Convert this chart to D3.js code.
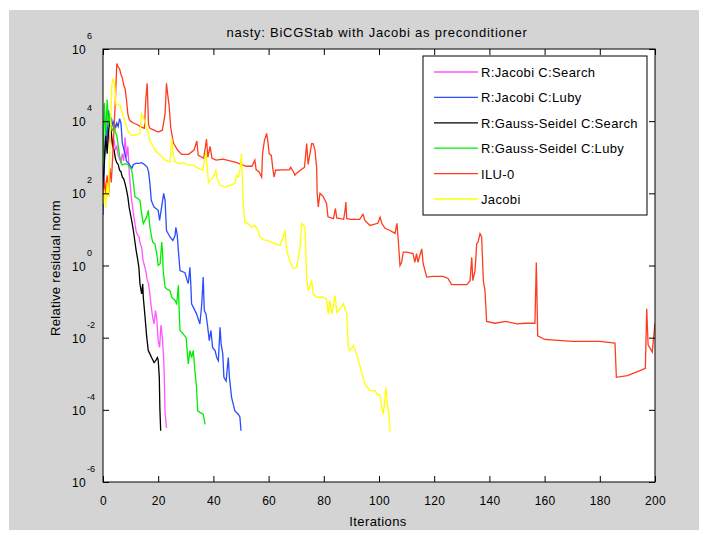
<!DOCTYPE html>
<html>
<head>
<meta charset="utf-8">
<script src="https://cdn.jsdelivr.net/npm/d3@7"></script>
<style>
  body { margin: 0; background: #fff; }
  text { font-family: "Liberation Sans", Arial, sans-serif; fill: #000; }
</style>
</head>
<body>
<svg id="chart" width="707" height="535"></svg>
<script>
// residual histories: [iteration, log10(relative residual)]
var jacobiSearch = [[0,2.4],[0.5,3.0],[1,3.5],[1.5,3.3],[2,3.8],[2.5,3.4],[3,3.6],[3.5,3.3],[4,3.5],[4.5,3.2],[5,3.3],[5.5,3.05],[6,2.95],[6.5,2.85],[7,3.1],[7.5,2.9],[8,3.55],[8.5,3.0],[9,3.3],[9.5,2.6],[10,2.1],[10.5,1.75],[11,1.45],[11.5,1.2],[12,0.95],[12.5,0.85],[13,0.8],[13.5,0.6],[14,0.5],[14.5,0.15],[15,0.0],[15.5,-0.15],[16,-0.4],[16.5,-0.5],[17,-0.8],[17.5,-1.15],[18,-1.44],[18.5,-1.62],[19,-1.25],[19.5,-1.5],[20,-2.08],[20.5,-2.27],[21,-1.65],[21.5,-2.0],[22,-2.6],[22.2,-3.1],[22.5,-4.1],[23,-4.5]];
var jacobiLuby = [[0,1.4],[0.5,2.8],[1,3.9],[1.5,3.5],[2,4.3],[2.5,3.9],[3,4.1],[3.5,3.9],[4,4.0],[4.5,3.8],[5,3.95],[5.5,3.85],[6,4.07],[6.5,3.95],[7,3.4],[7.5,3.24],[8,3.1],[8.5,2.9],[9,2.85],[9.5,2.8],[10,2.75],[10.5,2.7],[11,2.8],[12,2.83],[13,2.83],[14,2.85],[15,2.8],[16,2.73],[16.5,2.6],[17,2.27],[17.5,1.8],[18.5,1.62],[20,1.53],[20.5,1.25],[21,1.5],[22,2.0],[22.5,1.8],[23,0.97],[24.3,0.79],[25.3,0.69],[26.1,0.83],[26.4,1.06],[26.9,0.85],[27.3,0.42],[27.9,-0.14],[29.7,-0.2],[30.5,-0.42],[30.9,-0.5],[31.5,-0.05],[31.8,-0.5],[32.1,-1.06],[33.9,-1.34],[35.1,-1.62],[35.8,-1.06],[36.3,-0.32],[36.7,-1.25],[37.3,-1.34],[37.8,-1.62],[38.5,-2.08],[39.1,-1.8],[39.7,-2.27],[40.6,-2.36],[41.2,-2.55],[41.8,-2.64],[42.4,-1.71],[42.8,-2.17],[43.4,-2.45],[43.8,-3.1],[44.6,-3.2],[45.4,-2.55],[45.8,-3.1],[46.6,-3.66],[47.8,-4.03],[49,-4.12],[49.6,-4.2],[50,-4.58]];
var gaussSearch = [[0,2.1],[0.5,2.9],[1,3.6],[1.5,3.1],[2,3.7],[2.5,4.0],[3,3.7],[3.5,3.3],[4,3.2],[4.5,2.96],[5,2.85],[5.5,2.8],[6,2.64],[6.5,2.6],[7,2.45],[7.5,2.4],[8,2.27],[8.5,2.1],[9,1.9],[9.5,1.6],[10,1.4],[10.5,1.2],[11,0.97],[11.5,0.7],[12,0.42],[12.5,0.2],[13,-0.05],[13.4,-0.51],[14,-0.79],[14.4,-0.51],[14.6,-0.88],[15.2,-1.4],[15.8,-1.95],[16.4,-2.36],[17,-2.45],[17.6,-2.55],[18.5,-2.69],[19.2,-2.62],[19.7,-2.55],[20,-2.62],[20.4,-3.1],[20.6,-3.94],[20.9,-4.58]];
var gaussLuby = [[0,2.8],[0.5,4.5],[1,3.6],[1.5,4.6],[2,3.9],[2.5,4.2],[3,3.8],[3.5,3.75],[4,3.9],[4.5,3.7],[5,3.6],[5.5,3.33],[6,3.06],[6.5,2.87],[7,2.78],[8,2.82],[9,2.8],[10,2.7],[10.4,2.64],[11,2.3],[11.6,1.9],[12.8,1.85],[13.4,1.8],[14,1.44],[14.6,1.16],[15.2,1.25],[15.8,1.34],[16.4,1.53],[17,1.06],[17.6,0.79],[18,0.65],[18.8,0.6],[19.5,0.32],[20,0.0],[20.7,0.05],[21.3,0.65],[21.6,0.32],[21.8,-0.14],[22.5,-0.6],[23.1,-0.65],[24.3,-0.7],[24.9,-0.88],[26.1,-0.97],[26.7,-1.06],[27.3,-0.55],[27.6,-1.25],[27.9,-1.8],[29.1,-1.9],[30.1,-2.0],[30.5,-2.36],[30.9,-2.73],[31.5,-2.36],[32.1,-2.55],[32.7,-2.36],[33.3,-2.92],[33.9,-3.38],[34.3,-4.03],[35.1,-4.07],[36.3,-4.12],[37,-4.4]];
var ilu0 = [[0,1.8],[0.5,2.4],[1,2.0],[1.5,2.5],[2,1.9],[2.5,2.7],[3,2.3],[3.5,3.0],[4,3.8],[4.5,4.6],[5,5.6],[5.5,5.5],[6,5.45],[6.5,5.3],[7,5.2],[7.5,5.0],[8,4.9],[8.5,4.6],[9,4.2],[9.5,4.05],[10,4.0],[11,3.95],[12.5,3.9],[13.5,3.85],[15,3.8],[15.5,4.6],[16,5.05],[16.5,3.9],[17,3.8],[18.5,3.75],[20,3.7],[21.5,3.75],[22.5,4.2],[23,5.05],[23.5,4.7],[24,4.4],[24.5,3.85],[25.5,3.4],[27,3.2],[28.5,3.08],[31,3.08],[33,3.2],[34,3.45],[34.5,3.05],[36.5,2.97],[37.5,3.5],[38,3.0],[38.8,3.3],[39.5,2.97],[41,2.92],[43.5,2.95],[46,2.9],[48.5,2.85],[50,2.8],[52,2.75],[54,2.75],[55,2.92],[55.5,2.65],[56.5,2.6],[57.5,2.45],[57.8,3.1],[58.5,3.47],[59.3,3.66],[59.8,3.4],[60.2,3.1],[61,3.05],[61.5,2.7],[62,2.45],[62.5,2.64],[65,2.65],[67.5,2.65],[68,2.72],[69,2.6],[69.5,2.5],[70,2.55],[71.5,2.64],[73,2.72],[73.8,3.38],[74.3,2.8],[75,3.1],[75.6,3.38],[76.1,3.38],[76.8,3.2],[77.4,2.72],[77.6,2.0],[78,1.62],[78.6,2.0],[79.7,1.92],[81,1.72],[81.5,1.35],[83.5,1.3],[84.2,1.58],[84.7,1.32],[86,1.3],[87.2,1.28],[87.7,1.53],[88,1.76],[88.3,1.3],[90,1.28],[93,1.28],[94.2,1.42],[94.9,1.25],[96.7,1.11],[99.6,1.17],[100.4,1.34],[101,1.17],[102.2,1.03],[104,0.97],[105.8,0.89],[106.5,1.17],[106.9,0.79],[107.6,0.0],[108.2,0.09],[108.8,0.37],[110,0.37],[112.3,0.33],[113,0.09],[113.6,0.33],[114.1,0.09],[115.5,0.46],[116,0.05],[117.3,-0.32],[119.6,-0.3],[123.2,-0.3],[125,-0.36],[126.3,-0.53],[131.8,-0.53],[133,-0.42],[133.6,0.23],[134,-0.42],[134.8,-0.14],[135.4,0.6],[135.9,0.65],[136.6,0.88],[137.2,0.79],[137.8,-0.42],[138.4,-0.7],[139,-1.55],[142,-1.6],[146,-1.55],[150,-1.62],[153,-1.6],[156.5,-1.6],[157,0.08],[157.5,-1.95],[160,-2.05],[170,-2.1],[180,-2.1],[185.5,-2.15],[186,-3.1],[190,-3.05],[195,-2.9],[196.5,-2.85],[197,-1.2],[197.5,-2.2],[199,-2.4],[200,-1.6]];
var jacobi = [[0,1.7],[0.5,2.1],[1,1.6],[1.5,2.3],[2,1.9],[2.5,3.2],[3.2,5.0],[3.7,5.19],[4.3,4.95],[4.7,4.45],[6.2,4.45],[6.8,4.26],[8,3.98],[9.2,3.7],[10.4,3.6],[12.2,3.63],[13.4,3.66],[14,4.2],[14.6,4.12],[15.8,3.8],[16.4,3.7],[17,3.43],[17.6,3.38],[18.8,3.2],[20.7,3.06],[22.5,2.92],[24.3,2.87],[24.9,3.52],[25.3,3.15],[26.1,2.87],[27.9,2.82],[29.1,2.85],[30.9,2.78],[32.7,2.78],[35.1,2.68],[36.2,2.64],[37.3,3.15],[37.8,2.68],[38.2,2.3],[38.8,2.36],[40,2.45],[40.9,2.64],[41.4,2.4],[42.4,2.22],[44.2,2.18],[46,2.22],[47.8,2.27],[48.4,2.5],[49,2.45],[49.6,2.64],[50.2,3.1],[50.8,1.7],[51.4,1.2],[52.6,1.16],[53.8,1.06],[55,1.11],[56.2,0.97],[56.8,0.79],[58,0.72],[59.8,0.69],[61,0.65],[64.1,0.56],[65.3,0.79],[65.9,0.97],[66.6,0.42],[67.8,0.09],[69,-0.09],[70.2,-0.05],[70.8,0.23],[71.4,0.51],[72,1.16],[73.2,1.06],[73.8,-0.37],[74.4,-0.7],[75.6,-0.42],[76.2,-0.79],[77.4,-0.88],[79.8,-0.88],[81,-0.93],[81.6,-1.34],[82.2,-0.97],[82.9,-1.34],[84.1,-0.83],[84.7,-1.3],[85.9,-1.2],[87.1,-1.06],[88.3,-1.34],[88.9,-2.27],[89.5,-2.36],[90.7,-2.22],[91.9,-2.45],[93.7,-2.96],[94.9,-3.29],[96.7,-3.47],[98.6,-3.47],[99.2,-3.56],[100.4,-3.6],[101,-3.94],[101.6,-4.12],[102.5,-3.38],[103,-3.84],[103.7,-4.2],[104,-4.63]];

var seriesNames = ["R:Jacobi C:Search", "R:Jacobi C:Luby", "R:Gauss-Seidel C:Search", "R:Gauss-Seidel C:Luby", "ILU-0", "Jacobi"];
var seriesColors = ["#ff55ff", "#2a4dff", "#000000", "#00ee00", "#ff3c1e", "#ffff00"];
var seriesData = [jacobiSearch, jacobiLuby, gaussSearch, gaussLuby, ilu0, jacobi];

var xTicks = [0, 20, 40, 60, 80, 100, 120, 140, 160, 180, 200];
var yTickExps = [-6, -4, -2, 0, 2, 4, 6];

var W = 707, H = 535;
var margin = {top: 49, right: 52, bottom: 53, left: 103};
var plotW = W - margin.left - margin.right,
    plotH = H - margin.top - margin.bottom;

var svg = d3.select("#chart");

// grey figure background
svg.append("rect")
    .attr("x", 9).attr("y", 10)
    .attr("width", 690).attr("height", 520)
    .attr("fill", "#d4d4d4");

var x = d3.scaleLinear().domain([0, 200]).range([margin.left, margin.left + plotW]);
var y = d3.scaleLog().domain([1e-6, 1e6]).range([margin.top + plotH, margin.top]);

svg.append("rect")
    .attr("x", margin.left).attr("y", margin.top)
    .attr("width", plotW).attr("height", plotH)
    .attr("fill", "#fff");

svg.append("clipPath").attr("id", "plotclip")
  .append("rect")
    .attr("x", margin.left).attr("y", margin.top)
    .attr("width", plotW).attr("height", plotH);

var line = d3.line()
    .x(d => x(d[0]))
    .y(d => y(Math.pow(10, d[1])));

svg.append("g")
    .attr("clip-path", "url(#plotclip)")
  .selectAll("path")
  .data(seriesData)
  .join("path")
    .attr("d", line)
    .attr("fill", "none")
    .attr("stroke", (d, i) => seriesColors[i])
    .attr("stroke-width", 1.3)
    .attr("stroke-linejoin", "miter");

// axes with inward ticks on all four sides
var tickLen = 6;
svg.append("g")
    .attr("transform", `translate(0,${margin.top + plotH})`)
    .call(d3.axisBottom(x).tickValues(xTicks).tickSize(-tickLen).tickPadding(tickLen + 8))
    .call(g => g.select(".domain").remove())
    .call(g => g.selectAll("text").attr("font-size", 12).attr("letter-spacing", 0.3)
      .attr("font-family", "Liberation Sans, Arial, sans-serif"));

svg.append("g")
    .attr("transform", `translate(0,${margin.top})`)
    .call(d3.axisTop(x).tickValues(xTicks).tickSize(-tickLen).tickFormat(""))
    .call(g => g.select(".domain").remove());

var yTickVals = yTickExps.map(e => Math.pow(10, e));
svg.append("g")
    .attr("transform", `translate(${margin.left},0)`)
    .call(d3.axisLeft(y).tickValues(yTickVals).tickSize(-tickLen).tickFormat(""))
    .call(g => g.select(".domain").remove());

svg.append("g")
    .attr("transform", `translate(${margin.left + plotW},0)`)
    .call(d3.axisRight(y).tickValues(yTickVals).tickSize(-tickLen).tickFormat(""))
    .call(g => g.select(".domain").remove());

svg.selectAll(".tick line").attr("stroke", "#000");

svg.append("rect")
    .attr("x", margin.left).attr("y", margin.top)
    .attr("width", plotW).attr("height", plotH)
    .attr("fill", "none").attr("stroke", "#000").attr("stroke-width", 1);

// y tick labels as 10 with exponent
var ylab = svg.append("g").selectAll("g")
  .data(yTickExps)
  .join("g")
    .attr("transform", e => `translate(0,${y(Math.pow(10, e))})`);
ylab.append("text")
    .attr("x", 86).attr("y", 5)
    .attr("text-anchor", "end")
    .attr("font-size", 12)
    .attr("letter-spacing", 0.3)
    .text("10");
ylab.append("text")
    .attr("x", 87).attr("y", -10)
    .attr("font-size", 9)
    .text(e => e);

// titles
svg.append("text")
    .attr("x", 377).attr("y", 37)
    .attr("text-anchor", "middle")
    .attr("font-size", 13)
    .attr("letter-spacing", 0.75)
    .text("nasty: BiCGStab with Jacobi as preconditioner");

svg.append("text")
    .attr("x", 378).attr("y", 526)
    .attr("text-anchor", "middle")
    .attr("font-size", 13)
    .attr("letter-spacing", 0.4)
    .text("Iterations");

svg.append("text")
    .attr("transform", "translate(60,268) rotate(-90)")
    .attr("text-anchor", "middle")
    .attr("font-size", 13)
    .attr("letter-spacing", 0.3)
    .text("Relative residual norm");

// legend
var legend = svg.append("g");
legend.append("rect")
    .attr("x", 423).attr("y", 56)
    .attr("width", 224).attr("height", 159)
    .attr("fill", "#fff").attr("stroke", "#000");

var rowY = d3.scalePoint().domain(seriesNames).range([72, 199]);
var rows = legend.selectAll("g")
  .data(seriesNames)
  .join("g")
    .attr("transform", d => `translate(0,${rowY(d)})`);
rows.append("line")
    .attr("x1", 434).attr("x2", 478)
    .attr("stroke", (d, i) => seriesColors[i])
    .attr("stroke-width", 1.3);
rows.append("text")
    .attr("x", 481).attr("y", 5)
    .attr("font-size", 13)
    .attr("letter-spacing", 0.35)
    .text(d => d);
</script>
</body>
</html>
